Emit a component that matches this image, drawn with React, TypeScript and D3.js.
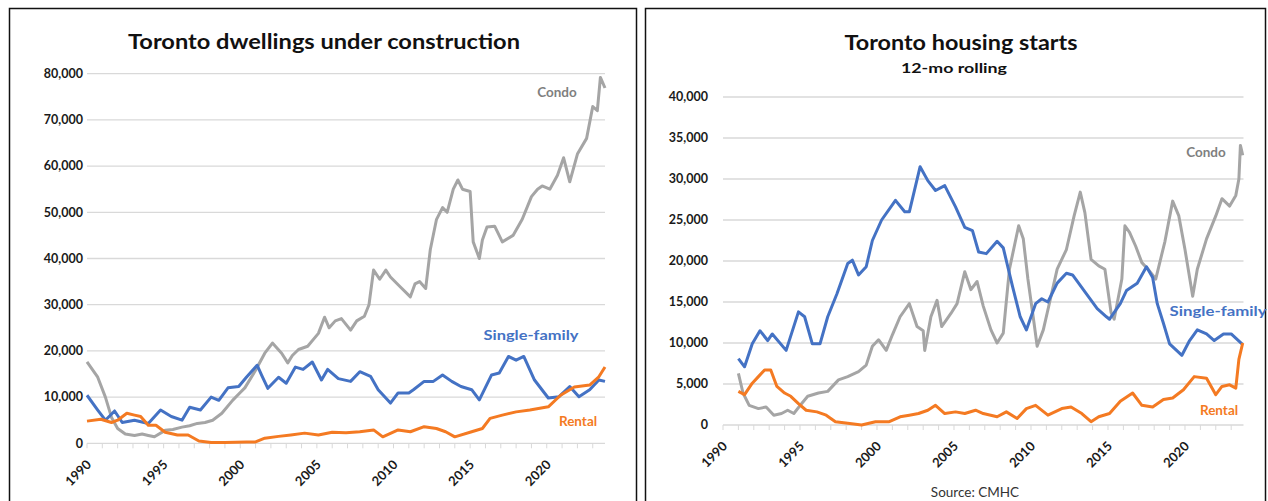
import React from "react";
import * as d3 from "d3";

// ---------- Left panel: dwellings under construction ----------
const leftCondoYears = [1990.0,1990.7,1991.2,1991.6,1992.0,1992.5,1993.1,1993.6,1994.0,1994.4,1995.1,1995.6,1996.2,1996.7,1997.2,1997.7,1998.2,1998.8,1999.5,2000.0,2000.3,2001.0,2001.6,2002.1,2002.7,2003.1,2003.4,2003.8,2004.4,2005.1,2005.5,2005.8,2006.2,2006.6,2007.2,2007.6,2008.1,2008.4,2008.7,2009.1,2009.5,2009.8,2010.4,2011.1,2011.4,2011.7,2012.1,2012.4,2012.8,2013.2,2013.5,2013.9,2014.2,2014.5,2015.0,2015.2,2015.6,2015.8,2016.1,2016.6,2017.1,2017.8,2018.4,2019.0,2019.4,2019.7,2020.2,2020.7,2021.1,2021.5,2022.0,2022.6,2023.0,2023.3,2023.5,2023.8];
const leftCondoValues = [17600,14300,10000,5600,3200,2000,1700,2000,1700,1400,2800,3000,3500,3800,4300,4500,5000,6500,9300,11000,12000,15800,19500,21700,19500,17400,19000,20300,21000,23800,27300,25000,26500,27000,24500,26500,27500,30000,37500,35500,37500,36000,34000,31700,34500,35000,33500,41900,48400,51000,50000,55000,57000,55000,54500,43600,40000,44000,46800,47000,43600,45000,48500,53400,55000,55700,55000,58000,61800,56600,62600,66000,72900,72000,79200,76900];

const leftSingleYears = [1990.0,1990.7,1991.2,1991.8,1992.3,1993.1,1994.0,1994.8,1995.5,1996.2,1996.7,1997.4,1998.1,1998.6,1999.2,1999.9,2000.4,2001.1,2001.4,2001.8,2002.5,2003.0,2003.6,2004.1,2004.7,2005.3,2005.7,2006.4,2007.2,2007.8,2008.5,2009.0,2009.8,2010.3,2011.0,2011.3,2012.0,2012.6,2013.2,2013.8,2014.4,2015.1,2015.6,2016.4,2016.9,2017.5,2018.0,2018.5,2019.2,2020.1,2020.8,2021.5,2022.1,2022.8,2023.4,2023.8];
const leftSingleValues = [10400,7200,5000,7000,4500,5000,4300,7200,5800,5000,7800,7200,10000,9300,12000,12300,14300,16900,14700,11900,14300,13000,16500,16000,17600,13700,16000,14000,13400,15500,14500,11600,8700,10900,10900,11600,13400,13400,14800,13400,12300,11600,9400,14800,15200,18800,18000,18800,13700,9800,10100,12300,10100,11600,13700,13400];

const leftRentalYears = [1990.0,1990.9,1991.6,1992.0,1992.6,1993.1,1993.5,1994.0,1994.5,1995.1,1995.9,1996.6,1997.3,1998.1,1999.0,2000.4,2001.0,2001.6,2002.5,2003.3,2004.2,2005.1,2006.0,2006.9,2007.8,2008.7,2009.3,2010.3,2011.1,2012.0,2012.8,2013.4,2014.0,2015.1,2015.8,2016.3,2017.1,2018.0,2018.9,2020.1,2020.9,2021.8,2022.8,2023.4,2023.8];
const leftRentalValues = [4800,5200,4500,5000,6500,6100,5800,3900,3900,2400,1800,1800,500,150,200,300,300,1100,1500,1800,2200,1800,2400,2300,2500,2900,1400,2900,2500,3600,3200,2500,1400,2500,3200,5400,6100,6800,7200,7900,10400,12200,12600,14400,16500];

// ---------- Right panel: housing starts, 12-mo rolling ----------
const rightSingleYears = [1991.0,1991.4,1991.9,1992.4,1992.9,1993.2,1994.1,1994.9,1995.3,1995.8,1996.3,1996.8,1997.4,1998.1,1998.4,1998.8,1999.3,1999.7,2000.3,2001.2,2001.8,2002.1,2002.8,2003.3,2003.8,2004.4,2005.1,2005.7,2006.2,2006.6,2007.1,2007.8,2008.2,2008.8,2009.3,2009.7,2010.3,2010.7,2011.1,2011.7,2012.3,2012.7,2013.6,2014.3,2014.9,2015.1,2015.8,2016.2,2016.9,2017.5,2017.9,2018.2,2018.6,2019.0,2019.8,2020.3,2020.8,2021.4,2021.9,2022.5,2023.0,2023.7];
const rightSingleValues = [8100,7100,9900,11500,10300,11100,9100,13800,13200,9900,9900,13200,16000,19700,20100,18300,19300,22500,25000,27400,26000,26000,31500,29800,28600,29200,26600,24100,23700,21100,20900,22400,21600,16900,13200,11600,14800,15400,15000,17300,18500,18300,16000,14200,13200,12900,14800,16400,17300,19300,18000,14800,12400,9900,8500,10300,11600,11100,10300,11100,11100,9900];

const rightCondoYears = [1991.0,1991.3,1991.7,1992.3,1992.8,1993.3,1993.8,1994.2,1994.6,1995.1,1995.5,1996.2,1996.8,1997.5,1998.1,1998.8,1999.3,1999.7,2000.1,2000.6,2001.0,2001.5,2002.1,2002.6,2003.0,2003.1,2003.5,2003.9,2004.2,2004.8,2005.2,2005.7,2006.1,2006.5,2006.9,2007.4,2007.8,2008.2,2008.6,2009.2,2009.5,2009.8,2010.2,2010.4,2010.8,2011.3,2011.7,2012.3,2012.8,2013.2,2013.5,2013.9,2014.4,2014.8,2015.2,2015.4,2015.9,2016.1,2016.4,2016.8,2017.2,2017.6,2018.1,2018.7,2019.2,2019.6,2020.0,2020.5,2020.8,2021.4,2022.0,2022.4,2022.9,2023.3,2023.5,2023.6,2023.75];
const rightCondoValues = [6300,3900,2400,2000,2200,1200,1400,1800,1400,2600,3500,3900,4100,5500,5900,6500,7300,9600,10400,9100,11000,13200,14800,12000,11500,9100,13200,15200,12000,13600,14800,18700,16500,17500,14500,11600,10000,11200,19000,24300,22700,17800,12400,9600,11600,15700,19000,21400,25500,28400,25900,20200,19400,19000,13700,12900,17800,24300,23500,21800,19800,19000,17800,22400,27300,25500,21400,15700,19000,22700,25500,27600,26700,28000,30000,34100,32900];

const rightRentalYears = [1991.0,1991.4,1991.9,1992.3,1992.7,1993.1,1993.5,1994.0,1994.4,1994.9,1995.4,1996.1,1996.7,1997.3,1998.1,1999.0,1999.9,2000.8,2001.5,2002.1,2002.7,2003.3,2003.8,2004.4,2005.1,2005.7,2006.4,2006.9,2007.8,2008.4,2009.1,2009.7,2010.3,2011.1,2012.0,2012.6,2013.3,2013.9,2014.4,2015.1,2015.8,2016.6,2017.2,2017.9,2018.6,2019.2,2019.9,2020.6,2021.4,2022.0,2022.4,2022.9,2023.3,2023.5,2023.75];
const rightRentalValues = [4100,3700,5100,5900,6700,6700,4700,3900,3500,2600,1800,1600,1200,400,200,0,400,400,1000,1200,1400,1800,2400,1400,1600,1400,1800,1400,1000,1600,800,2000,2400,1200,2000,2200,1400,400,1000,1400,2900,3900,2400,2200,3100,3300,4300,5900,5700,3700,4700,4900,4500,8000,10000];

const xTickLabels = [1990, 1995, 2000, 2005, 2010, 2015, 2020];
const leftYTicks = [0, 10000, 20000, 30000, 40000, 50000, 60000, 70000, 80000];
const rightYTicks = [0, 5000, 10000, 15000, 20000, 25000, 30000, 35000, 40000];

const BLUE = "#4472C4";
const ORANGE = "#F47A22";
const GRAY = "#A5A5A5";
const GRAY_TEXT = "#7F7F7F";
const FONT = "Lato, 'Open Sans', sans-serif";

type Series = { years: number[]; values: number[]; color: string };

function Panel(props: {
  x0: number; x1: number; yTop: number; yBottom: number; yMax: number;
  yTicks: number[]; series: Series[]; labelRight: number;
}) {
  const { x0, x1, yTop, yBottom, yMax, yTicks, series, labelRight } = props;
  const x = d3.scaleLinear().domain([1990, 2023.8]).range([x0, x1]);
  const y = d3.scaleLinear().domain([0, yMax]).range([yBottom, yTop]);
  const line = d3.line<[number, number]>().x(d => x(d[0])).y(d => y(d[1]));
  const fmt = d3.format(",");
  const minor = d3.range(1990, 2024);
  return (
    <g>
      {yTicks.map(t => (
        <g key={t}>
          {t > 0 && <line x1={x0} x2={x1} y1={y(t)} y2={y(t)} stroke="#D9D9D9" strokeWidth={1.3} />}
          <text x={labelRight} y={y(t)} dy="0.35em" textAnchor="end" fontFamily={FONT} fontWeight={700} fontSize={12.5} fill="#1a1a1a">{fmt(t)}</text>
        </g>
      ))}
      <line x1={x0} x2={x1} y1={yBottom} y2={yBottom} stroke="#D9D9D9" strokeWidth={1.3} />
      {minor.map(m => (
        <line key={m} x1={x(m)} x2={x(m)} y1={yBottom} y2={yBottom + 5} stroke="#D9D9D9" strokeWidth={1} />
      ))}
      {xTickLabels.map(t => (
        <text key={t} transform={`translate(${x(t) + 5},${yBottom + 22}) rotate(-45)`} textAnchor="end" fontFamily={FONT} fontWeight={700} fontSize={13} fill="#1a1a1a">{t}</text>
      ))}
      {series.map((s, i) => (
        <path key={i} d={line(s.years.map((yr, j) => [yr, s.values[j]] as [number, number])) || ""} fill="none" stroke={s.color} strokeWidth={3} strokeLinejoin="round" />
      ))}
    </g>
  );
}

export default function App() {
  return (
    <svg width={1268} height={501} style={{ position: "absolute", left: 0, top: 0, background: "#fff" }}>
      <rect x={0} y={0} width={1268} height={501} fill="#fff" />
      <rect x={9.5} y={8.5} width={627} height={520} fill="none" stroke="#111" strokeWidth={1.5} />
      <rect x={645.5} y={8.5} width={620} height={520} fill="none" stroke="#111" strokeWidth={1.5} />

      <text x={324} y={49} textAnchor="middle" fontFamily={FONT} fontWeight={700} fontSize={20} fill="#111" textLength={392} lengthAdjust="spacingAndGlyphs">Toronto dwellings under construction</text>
      <Panel x0={87} x1={605} yTop={73.7} yBottom={443.3} yMax={80000} yTicks={leftYTicks} labelRight={83}
        series={[
          { years: leftCondoYears, values: leftCondoValues, color: GRAY },
          { years: leftSingleYears, values: leftSingleValues, color: BLUE },
          { years: leftRentalYears, values: leftRentalValues, color: ORANGE },
        ]} />
      <text x={557} y={97} textAnchor="middle" fontFamily={FONT} fontWeight={700} fontSize={13.5} fill={GRAY_TEXT}>Condo</text>
      <text x={531} y={340} textAnchor="middle" fontFamily={FONT} fontWeight={700} fontSize={13.5} fill={BLUE} textLength={95} lengthAdjust="spacingAndGlyphs">Single-family</text>
      <text x={578} y={426} textAnchor="middle" fontFamily={FONT} fontWeight={700} fontSize={13.5} fill={ORANGE}>Rental</text>

      <text x={961} y={50} textAnchor="middle" fontFamily={FONT} fontWeight={700} fontSize={20} fill="#111" textLength={233} lengthAdjust="spacingAndGlyphs">Toronto housing starts</text>
      <text x={954} y={73} textAnchor="middle" fontFamily={FONT} fontWeight={700} fontSize={13.5} fill="#111" textLength={106} lengthAdjust="spacingAndGlyphs">12-mo rolling</text>
      <Panel x0={723} x1={1243.5} yTop={97} yBottom={425} yMax={40000} yTicks={rightYTicks} labelRight={708}
        series={[
          { years: rightCondoYears, values: rightCondoValues, color: GRAY },
          { years: rightSingleYears, values: rightSingleValues, color: BLUE },
          { years: rightRentalYears, values: rightRentalValues, color: ORANGE },
        ]} />
      <text x={1206} y={157} textAnchor="middle" fontFamily={FONT} fontWeight={700} fontSize={13.5} fill={GRAY_TEXT}>Condo</text>
      <text x={1218} y={316} textAnchor="middle" fontFamily={FONT} fontWeight={700} fontSize={13.5} fill={BLUE} textLength={97} lengthAdjust="spacingAndGlyphs">Single-family</text>
      <text x={1219} y={415} textAnchor="middle" fontFamily={FONT} fontWeight={700} fontSize={13.5} fill={ORANGE}>Rental</text>
      <text x={975} y={497} textAnchor="middle" fontFamily={FONT} fontSize={13.5} fill="#333">Source: CMHC</text>
    </svg>
  );
}
